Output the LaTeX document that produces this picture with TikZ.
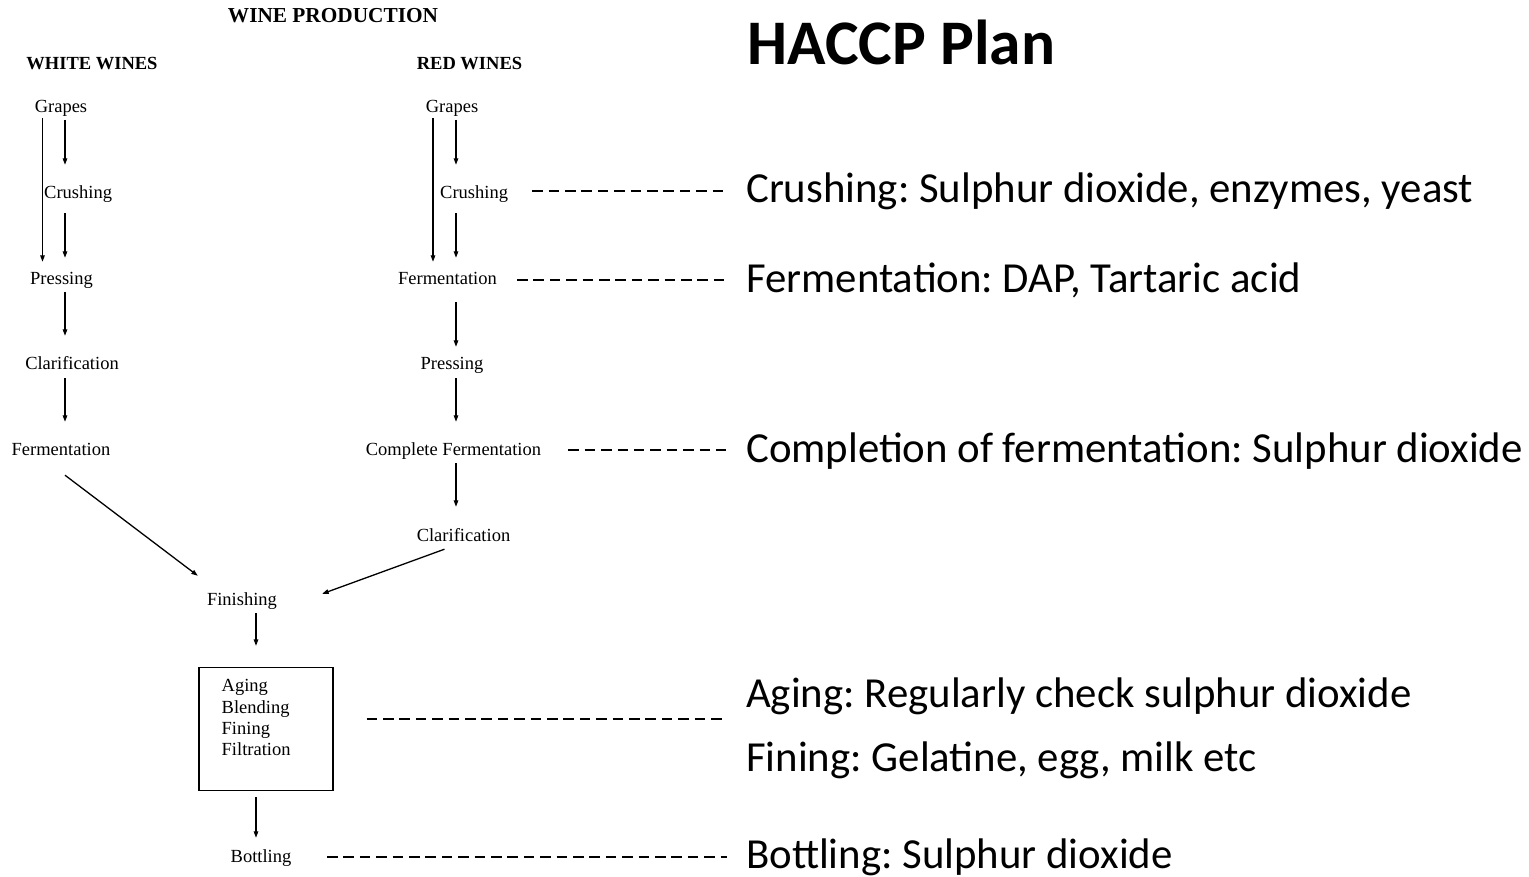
\documentclass[tikz,border=0pt]{standalone}
\usepackage{fontspec}
\setmainfont{Liberation Serif}
\newfontfamily\calfont{Carlito}
\usetikzlibrary{arrows.meta,calc}
\frenchspacing
\begin{document}
\frenchspacing
\begin{tikzpicture}[x=1pt,y=-1pt,
  lbl/.style={inner sep=0pt, anchor=base, font=\fontsize{18.5}{21}\selectfont, text height=13pt, text depth=4pt},
  lblw/.style={lbl, anchor=base west},
  hd/.style={inner sep=0pt, anchor=base, font=\bfseries\fontsize{18.5}{21}\selectfont},
  plan/.style={inner sep=0pt, anchor=base west, font=\calfont\fontsize{42.8}{50}\selectfont, text height=17pt, text depth=0pt},
  arr/.style={line width=1.3pt, -{Triangle[length=6.5pt,width=4.5pt]}},
  dashline/.style={line width=2pt, dash pattern=on 10.5pt off 5.9pt},
  boxstyle/.style={draw, line width=1.2pt, minimum width=134pt, minimum height=123pt, inner sep=0pt}
]
\useasboundingbox (0,0) rectangle (1529,877);

% titles
\node[hd, font=\bfseries\fontsize{21.3}{24}\selectfont] (title) at (333,22.7) {WINE PRODUCTION};
\node[hd] (white) at (92,70) {WHITE WINES};
\node[hd] (red) at (469.5,70) {RED WINES};

% column helpers
\coordinate (wxL) at (42.5,0);
\coordinate (wxR) at (65,0);
\coordinate (rxL) at (433,0);
\coordinate (rxR) at (456,0);
\coordinate (fx) at (256,0);

% white wines
\node[lbl] (wg) at (61,112.7) {Grapes};
\node[lblw] (wc) at (44,199) {Crushing};
\node[lbl] (wp) at (61.5,285) {Pressing};
\node[lbl] (wcl) at (72,370) {Clarification};
\node[lbl] (wf) at (61,455) {Fermentation};

% red wines
\node[lbl] (rg) at (452,112.7) {Grapes};
\node[lblw] (rc) at (440,199) {Crushing};
\node[lbl] (rf) at (447.5,285) {Fermentation};
\node[lbl] (rp) at (452,370) {Pressing};
\node[lbl] (rcf) at (453.5,455) {Complete Fermentation};
\node[lbl] (rcl) at (463.5,541) {Clarification};

% common
\node[lbl] (fin) at (242,605) {Finishing};
\node[boxstyle] (box) at (266,729) {};
\node[inner sep=0pt, anchor=north west, align=left, font=\fontsize{18.5}{21.2}\selectfont] (boxtxt) at (221.5,679.5) {Aging\\Blending\\Fining\\Filtration};
\node[lbl] (bot) at (261,862) {Bottling};

% HACCP plan
\node[inner sep=0pt, anchor=base west, font=\calfont\bfseries\fontsize{63.5}{68}\selectfont] (haccp) at (747,65) {HACCP Plan};
\node[plan] (hc) at (746,202.5) {Crushing: Sulphur dioxide, enzymes, yeast};
\node[plan] (hf) at (746,293) {Fermentation: DAP, Tartaric acid};
\node[plan] (hcf) at (746,462) {Completion of fermentation: Sulphur dioxide};
\node[plan] (ha) at (746,707) {Aging: Regularly check sulphur dioxide};
\node[plan] (hfi) at (746,771) {Fining: Gelatine, egg, milk etc};
\node[plan] (hb) at (746,868) {Bottling: Sulphur dioxide};

% white arrows
\draw[arr, shorten <=1pt, shorten >=10pt] (wxL |- wg.south) -- (wxL |- wp.north);
\draw[arr, shorten <=3pt, shorten >=21pt] (wxR |- wg.south) -- (wxR |- wc.north);
\draw[arr, shorten <=10pt, shorten >=14pt] (wxR |- wc.south) -- (wxR |- wp.north);
\draw[arr, shorten <=3pt, shorten >=21pt] (wxR |- wp.south) -- (wxR |- wcl.north);
\draw[arr, shorten <=4pt, shorten >=20pt] (wxR |- wcl.south) -- (wxR |- wf.north);
\draw[arr] ($(wf.south)+(4,16)$) -- ($(fin.north west)+(-9,-16)$);

% red arrows
\draw[arr, shorten <=1pt, shorten >=10pt] (rxL |- rg.south) -- (rxL |- rf.north);
\draw[arr, shorten <=3pt, shorten >=21pt] (rxR |- rg.south) -- (rxR |- rc.north);
\draw[arr, shorten <=10pt, shorten >=14pt] (rxR |- rc.south) -- (rxR |- rf.north);
\draw[arr, shorten <=13pt, shorten >=10pt] (rxR |- rf.south) -- (rxR |- rp.north);
\draw[arr, shorten <=4pt, shorten >=20pt] (rxR |- rp.south) -- (rxR |- rcf.north);
\draw[arr, shorten <=4pt, shorten >=21pt] (rxR |- rcf.south) -- (rxR |- rcl.north);
\draw[arr] ($(rcl.south)+(-19,4)$) -- ($(fin.north east)+(45,2)$);

% finishing
\draw[arr, shorten <=4pt, shorten >=21pt] (fx |- fin.south) -- (fx |- box.north);
\draw[arr, shorten <=6pt, shorten >=11pt] (fx |- box.south) -- (fx |- bot.north);

% dashed links
\draw[dashline, shorten <=24pt, shorten >=19pt] ($(rc.east |- hc.west)+(0,-2.5)$) -- ($(hc.west)+(0,-2.5)$);
\draw[dashline, shorten <=20pt, shorten >=19pt] ($(rf.east |- hf.west)+(0,-4)$) -- ($(hf.west)+(0,-4)$);
\draw[dashline, shorten <=27pt, shorten >=19pt] ($(rcf.east |- hcf.west)+(0,-4)$) -- ($(hcf.west)+(0,-4)$);
\draw[dashline] ($(box.east)+(33,-10)$) -- ($(box.east -| ha.west)+(-19,-10)$);
\draw[dashline, shorten <=35.5pt, shorten >=19pt] ($(bot.east)+(0,-1)$) -- ($(bot.east -| hb.west)+(0,-1)$);
\end{tikzpicture}
\end{document}
